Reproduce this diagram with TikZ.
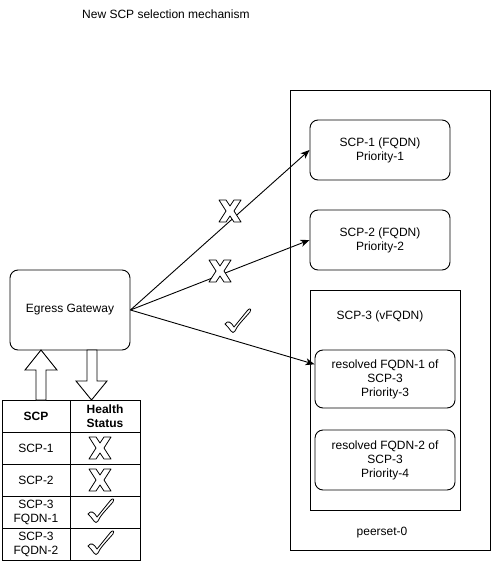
\documentclass[tikz,border=0pt]{standalone}
\usepackage{fontspec}
\setmainfont{Liberation Sans}
\usetikzlibrary{calc,arrows.meta}
\begin{document}
\begin{tikzpicture}[x=1pt,y=-1pt,
  every node/.style={font=\fontsize{12}{14}\selectfont, inner sep=0pt, align=center},
  ln/.style={line width=0.9pt},
  rbox/.style={draw, ln, rounded corners=8pt, minimum width=140pt, minimum height=60pt},
  sbox/.style={draw, ln},
  cell/.style={draw, ln, minimum height=32pt},
  cellA/.style={cell, minimum width=68pt},
  cellB/.style={cell, minimum width=70pt},
  hdr/.style={font=\fontsize{12}{14}\selectfont\bfseries},
  arr/.style={ln, -{Stealth[length=9pt,width=7pt,inset=2.5pt]}},
  blk/.style={draw, ln, fill=white, line join=miter},
  mk/.style={draw, line width=0.8pt, fill=white, line join=round},
  xmk/.pic={
    \path[mk] (-11,-11) -- (-4,-11) -- (0,-5) -- (4,-11) -- (11,-11) -- (4,0)
      -- (11,11) -- (4,11) -- (0,5) -- (-4,11) -- (-11,11) -- (-4,0) -- cycle;
  },
  ckmk/.pic={
    \path[mk] (-13,3) .. controls (-10,-1) and (-7,1) .. (-4,6)
      -- (9,-10) .. controls (11,-13) and (14,-13) .. (12,-9)
      .. controls (5,-1) and (-1,5) .. (-3,10)
      .. controls (-4,12) and (-6,12) .. (-7,10)
      .. controls (-9,7) and (-11,5) .. cycle;
  }
]
\useasboundingbox (0,0) rectangle (491,561);

% title
\node[anchor=west] (title) at (82,14) {New SCP selection mechanism};

% peerset container
\node[sbox, minimum width=200pt, minimum height=460pt] (peer) at (390,320) {};
\node (peerlbl) at (382,533) {peerset-0};

\node[rbox] (s1) at (380,150) {SCP-1 (FQDN)\\Priority-1};
\node[rbox] (s2) at (380,240) {SCP-2 (FQDN)\\Priority-2};

\node[sbox, minimum width=150pt, minimum height=220pt] (s3) at (385,400) {};
\node (s3lbl) at (380,316) {SCP-3 (vFQDN)};
\node[rbox, minimum height=58pt] (r1) at (385,379) {resolved FQDN-1 of\\SCP-3\\Priority-3};
\node[rbox] (r2) at (385,460) {resolved FQDN-2 of\\SCP-3\\Priority-4};

% egress gateway
\node[rbox, minimum width=120pt, minimum height=80pt] (eg) at (70,310) {Egress Gateway};

% connectors
\coordinate (r1in) at ($(r1.north west)!0.25!(r1.south west)$);
\draw[arr] (eg.east) -- (s1.west);
\draw[arr] (eg.east) -- (s2.west);
\draw[arr] (eg.east) -- (r1in);

\pic at (230,211) {xmk};
\pic at (220,271) {xmk};
\pic at (238,321) {ckmk};

% table
\node[cellA, hdr] (h1) at (36,416) {SCP};
\node[cellB, hdr] (h2) at (105,416) {Health\\Status};
\node[cellA] (a1) at (36,448) {SCP-1};
\node[cellB] (b1) at (105,448) {};
\node[cellA] (a2) at (36,480) {SCP-2};
\node[cellB] (b2) at (105,480) {};
\node[cellA] (a3) at (36,512) {SCP-3\\FQDN-1};
\node[cellB] (b3) at (105,512) {};
\node[cellA] (a4) at (36,544) {SCP-3\\FQDN-2};
\node[cellB] (b4) at (105,544) {};

\pic at ($(b1.center)+(-5,0)$) {xmk};
\pic at ($(b2.center)+(-5,0)$) {xmk};
\pic at ($(b3.center)+(-4,-1)$) {ckmk};
\pic at ($(b4.center)+(-4,-1)$) {ckmk};

% block arrows between gateway and table
\path[blk] (41,350) -- (57,370) -- (46,370) -- (46,400) -- (36,400) -- (36,370) -- (25,370) -- cycle;
\path[blk] (87,350) -- (97,350) -- (97,381) -- (107,381) -- (91.5,400) -- (76,381) -- (87,381) -- cycle;
\end{tikzpicture}
\end{document}
